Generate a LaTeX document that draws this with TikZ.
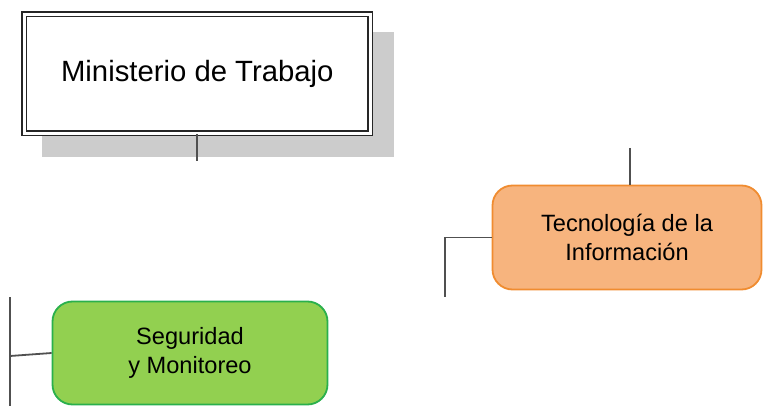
\documentclass[tikz,border=0pt]{standalone}
\usepackage{fontspec}
\setmainfont{Liberation Sans}
\definecolor{shadowgray}{HTML}{CCCCCC}
\definecolor{linegray}{HTML}{505050}
\definecolor{orfill}{HTML}{F7B47E}
\definecolor{ordraw}{HTML}{F08C30}
\definecolor{grfill}{HTML}{92D050}
\definecolor{grdraw}{HTML}{2AB04C}
\begin{document}
\begin{tikzpicture}[x=1pt,y=-1pt,
  conn/.style={draw=linegray, line width=1.8pt},
  mainbox/.style={draw=black!85, fill=white, double, double distance=2.8pt, line width=1.6pt,
    minimum width=346pt, minimum height=119pt, inner sep=0pt, font=\fontsize{29.3}{34}\selectfont},
  unitbox/.style={rounded corners=20pt, line width=1.8pt, inner sep=0pt, align=center,
    font=\fontsize{23.6}{29}\selectfont},
  orbox/.style={unitbox, draw=ordraw, fill=orfill, minimum width=269pt, minimum height=104pt},
  grbox/.style={unitbox, draw=grdraw, fill=grfill, minimum width=275pt, minimum height=103pt}]
\useasboundingbox (0,0) rectangle (763,406);
% shadow of main box
\fill[shadowgray] (42,32) rectangle (394,157);
\node[mainbox] (min) at (197.3,74) {Ministerio de Trabajo};
\coordinate (minend) at (197.3,161);
\draw[conn] (min.south) -- (minend);

% Tecnologia
\node[orbox] (ti) at (627,237.5) {Tecnología de la\\Información};
\coordinate (titop) at (630,148);
\coordinate (tileft) at (445,297);
\draw[conn] (titop) -- (630,185.5);
\draw[conn] (ti.west) -| (tileft);

% Seguridad
\node[grbox] (seg) at (190,353) {Seguridad\\y Monitoreo};
\coordinate (segtop) at (10,297);
\coordinate (segbot) at (10,406);
\coordinate (segj) at (10,356);
\draw[conn] (segtop) -- (segbot);
\draw[conn] (segj) -- (seg.west);
\end{tikzpicture}
\end{document}
